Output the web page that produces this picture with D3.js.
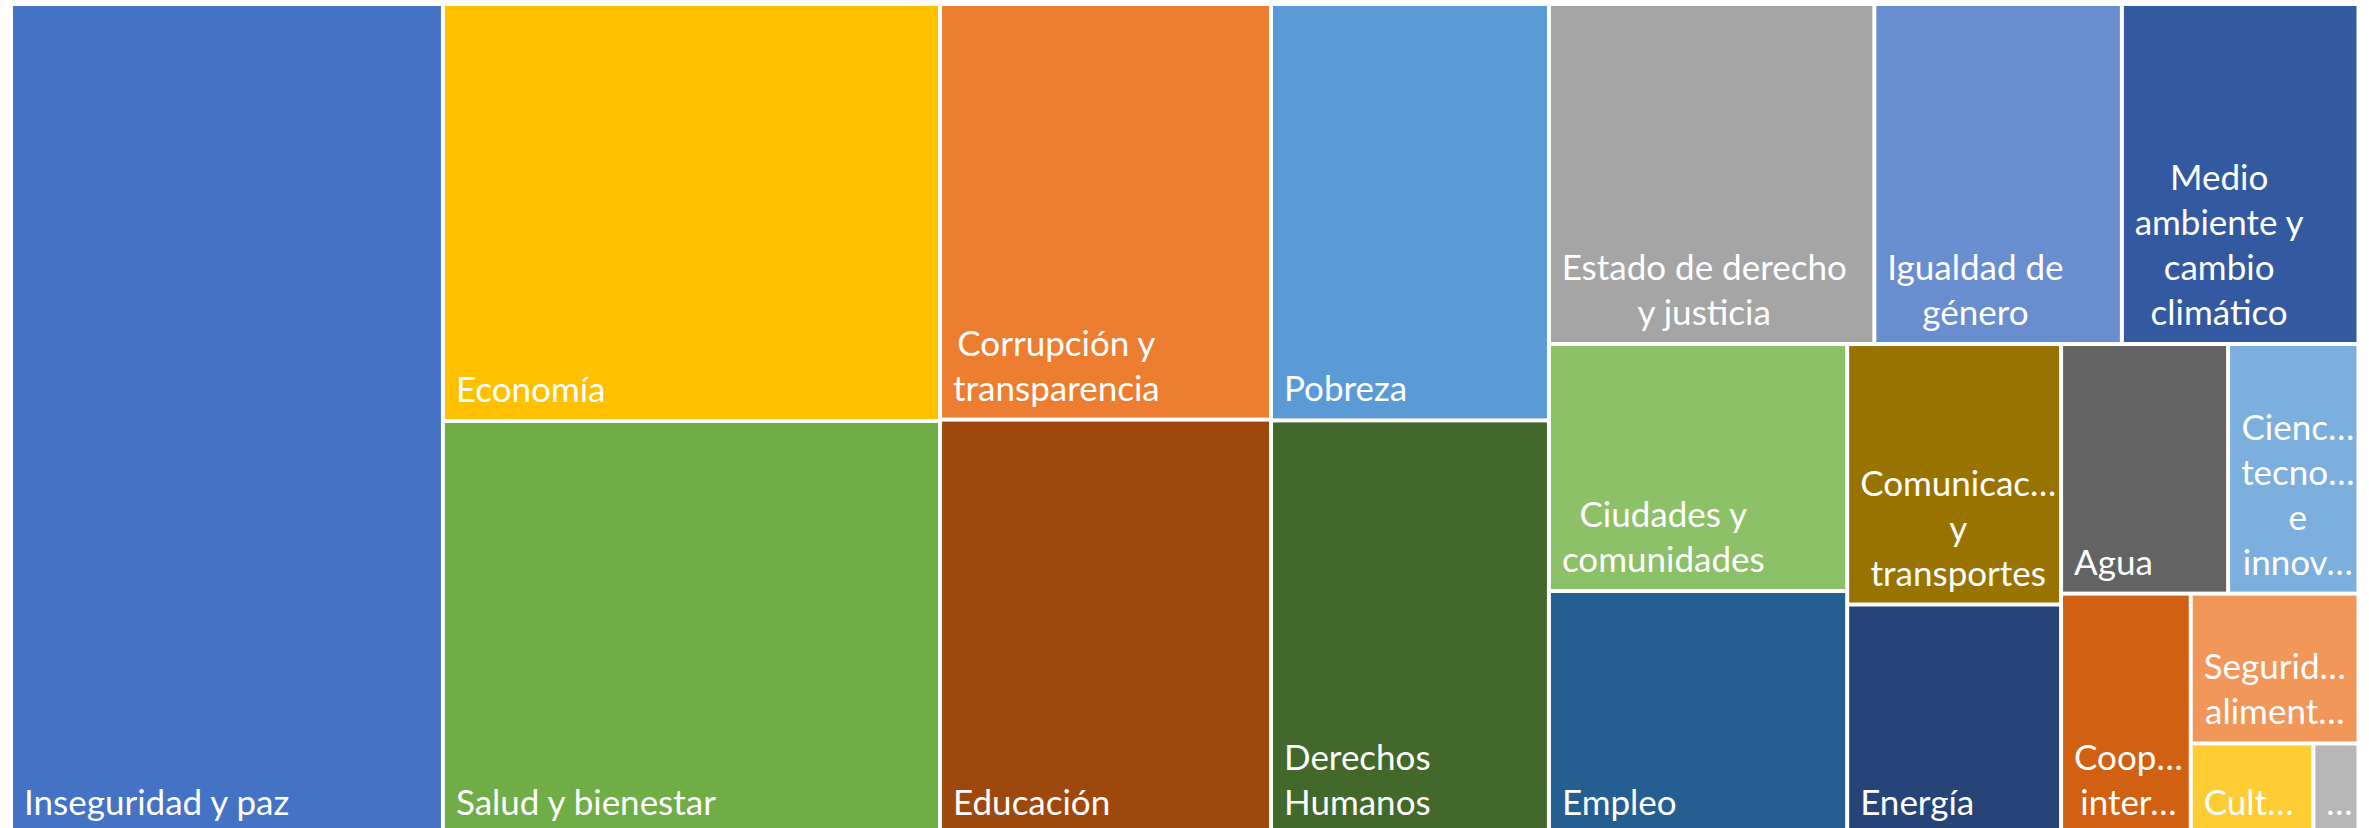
<!DOCTYPE html>
<html>
<head>
<meta charset="utf-8">
<script src="https://cdn.jsdelivr.net/npm/d3@7"></script>
<style>
  html, body { margin: 0; padding: 0; background: #ffffff; overflow: hidden; }
  svg { display: block; }
</style>
</head>
<body>
<svg id="chart" width="2369" height="828"></svg>
<script>
// Categories (full names), in order of size
const categories = [
  "Inseguridad y paz",
  "Economía",
  "Salud y bienestar",
  "Corrupción y transparencia",
  "Educación",
  "Pobreza",
  "Derechos Humanos",
  "Estado de derecho y justicia",
  "Igualdad de género",
  "Medio ambiente y cambio climático",
  "Ciudades y comunidades",
  "Empleo",
  "Comunicaciones y transportes",
  "Energía",
  "Agua",
  "Ciencia, tecnología e innovación",
  "Cooperación internacional",
  "Seguridad alimentaria",
  "Cultura",
  "Otros"
];

// Relative sizes (per mille)
const values = [184.0, 106.4, 105.4, 70.6, 70.4, 59.4, 59.0, 56.8, 43.2, 41.3,
                37.8, 37.2, 28.6, 25.2, 21.4, 16.7, 16.0, 12.9, 5.7, 2.1];

// Label lines as displayed (wrapped / truncated)
const labelLines = [
  ["Inseguridad y paz"],
  ["Economía"],
  ["Salud y bienestar"],
  ["Corrupción y", "transparencia"],
  ["Educación"],
  ["Pobreza"],
  ["Derechos", "Humanos"],
  ["Estado de derecho", "y justicia"],
  ["Igualdad de", "género"],
  ["Medio", "ambiente y", "cambio", "climático"],
  ["Ciudades y", "comunidades"],
  ["Empleo"],
  ["Comunicac…", "y", "transportes"],
  ["Energía"],
  ["Agua"],
  ["Cienc…", "tecno…", "e", "innov…"],
  ["Coop…", "inter…"],
  ["Segurid…", "aliment…"],
  ["Cult…"],
  ["…"]
];

const colors = [
  "#4472C4", "#FFC000", "#70AD47", "#ED7D31", "#9E480E",
  "#5B9BD5", "#43682B", "#A5A5A5", "#698ED0", "#335AA1",
  "#8CC168", "#255E91", "#997300", "#264478", "#636363",
  "#7CAFDD", "#D26012", "#F1975A", "#FFCD33", "#B7B7B7"
];

const data = categories.map((name, i) => ({
  name, value: values[i], lines: labelLines[i], color: colors[i]
}));

const W = 2343.5, H = 826;
const svg = d3.select("#chart");
const g = svg.append("g").attr("transform", "translate(13,6)");

const root = d3.hierarchy({ name: "root", children: data })
  .sum(d => d.value || 0);

d3.treemap()
  .tile(d3.treemapSquarify.ratio(1))
  .size([W, H])
  .paddingInner(4)
  .round(false)(root);

const FONT = "Lato, 'Open Sans', sans-serif";
const FS = 35;
const LH = 45;

const cells = g.selectAll("g.cell")
  .data(root.leaves())
  .join("g")
  .attr("class", "cell");

cells.append("rect")
  .attr("x", d => d.x0)
  .attr("y", d => d.y0)
  .attr("width", d => d.x1 - d.x0)
  .attr("height", d => d.y1 - d.y0)
  .attr("fill", d => d.data.color);

cells.each(function(d) {
  const cell = d3.select(this);
  const lines = d.data.lines;
  const t = cell.append("text")
    .attr("fill", "#ffffff")
    .attr("font-family", FONT)
    .attr("font-size", FS)
    .attr("text-anchor", "middle");
  const spans = lines.map(l => t.append("tspan").text(l));
  let bw = 0;
  spans.forEach(s => { bw = Math.max(bw, s.node().getComputedTextLength()); });
  const cx = d.x0 + 11 + bw / 2;
  const lastBase = d.y1 - 17;
  spans.forEach((s, i) => {
    s.attr("x", cx).attr("y", lastBase - (lines.length - 1 - i) * LH);
  });
});
</script>
</body>
</html>
